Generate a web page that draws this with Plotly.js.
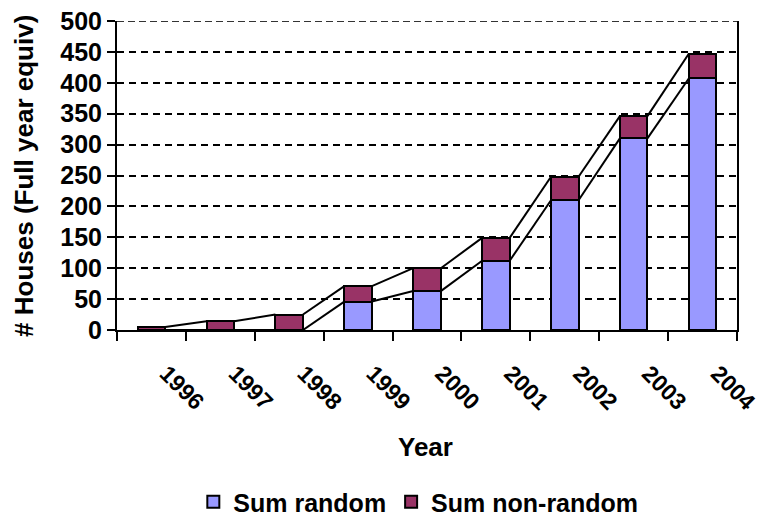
<!DOCTYPE html>
<html>
<head>
<meta charset="utf-8">
<script src="https://cdn.plot.ly/plotly-3.0.1.min.js"></script>
<style>
  html, body { margin: 0; padding: 0; background: #ffffff; }
  #chart { width: 760px; height: 526px; }
</style>
</head>
<body>
<div id="chart"></div>
<script>
// Houses per year (full-year equivalent), split into random and non-random
const years = ['1996', '1997', '1998', '1999', '2000', '2001', '2002', '2003', '2004'];
const sumRandom = [0, 0, 0, 46, 63, 112, 210, 310, 407];
const sumNonRandom = [5, 14, 25, 25, 37, 37, 38, 36, 40];

const COLOR_RANDOM = '#9999ff';
const COLOR_NONRANDOM = '#993366';
const FONT = 'Liberation Sans, Arial, sans-serif';
const BAR_HALF = 0.2;
const Y_MAX = 500;

const idx = years.map((_, i) => i);
const totals = sumRandom.map((v, i) => v + sumNonRandom[i]);

// Series lines joining the tops of neighbouring stacked segments
function seriesLine(values) {
  const xs = [], ys = [];
  for (let i = 0; i < values.length - 1; i++) {
    xs.push(i + BAR_HALF, i + 1 - BAR_HALF, null);
    ys.push(values[i], values[i + 1], null);
  }
  return {
    type: 'scatter', mode: 'lines', x: xs, y: ys,
    line: { color: '#000000', width: 2 },
    hoverinfo: 'skip', showlegend: false, connectgaps: false
  };
}

const traces = [
  {
    type: 'bar', name: 'Sum random', x: idx, y: sumRandom,
    marker: { color: COLOR_RANDOM, line: { color: '#000000', width: 2 } }
  },
  {
    type: 'bar', name: 'Sum non-random', x: idx, y: sumNonRandom,
    marker: { color: COLOR_NONRANDOM, line: { color: '#000000', width: 2 } }
  },
  seriesLine(sumRandom),
  seriesLine(totals)
];

const layout = {
  width: 760, height: 526,
  margin: { l: 117, r: 23, t: 21, b: 196, autoexpand: false },
  paper_bgcolor: '#ffffff', plot_bgcolor: '#ffffff',
  barmode: 'stack', bargap: 0.6,
  font: { family: FONT, weight: 'bold', color: '#000000', size: 24 },
  showlegend: true,
  legend: {
    orientation: 'h', traceorder: 'normal',
    x: 0.486, xanchor: 'center', y: -0.557, yanchor: 'middle',
    font: { family: FONT, weight: 'bold', size: 25, color: '#000000' },
    itemwidth: 30, tracegroupgap: 0
  },
  xaxis: {
    type: 'linear', range: [-0.5, years.length - 0.5], fixedrange: true,
    automargin: false,
    tickmode: 'array', tickvals: idx, ticktext: years,
    tickangle: 45, ticks: '', ticklabelstandoff: 19, ticklabelshift: 15,
    ticklabeloverflow: 'allow',
    tickfont: { family: FONT, weight: 'bold', size: 23, color: '#000000' },
    minor: { tickmode: 'linear', tick0: -0.5, dtick: 1, ticks: 'outside', ticklen: 9, tickwidth: 2, tickcolor: '#000000', showgrid: false },
    showgrid: false, zeroline: false,
    showline: true, linecolor: '#000000', linewidth: 2
  },
  yaxis: {
    range: [0, Y_MAX], tick0: 0, dtick: 50, fixedrange: true,
    automargin: false,
    ticks: 'outside', ticklen: 8, tickwidth: 2, tickcolor: '#000000',
    tickfont: { family: FONT, weight: 'bold', size: 25, color: '#000000' },
    showgrid: true, gridcolor: '#000000', gridwidth: 2, griddash: '7px,5px',
    zeroline: false,
    showline: true, linecolor: '#000000', linewidth: 2, mirror: true
  },
  shapes: [
    // gridline along the top of the value axis
    {
      type: 'line', xref: 'paper', yref: 'y', x0: 0, x1: 1, y0: Y_MAX, y1: Y_MAX,
      line: { color: '#333333', width: 2, dash: '7px,4px' }, layer: 'below'
    }
  ],
  annotations: [
    {
      text: 'Year', xref: 'paper', yref: 'paper', x: 0.497, y: -0.378,
      xanchor: 'center', yanchor: 'middle', showarrow: false,
      font: { family: FONT, weight: 'bold', size: 26, color: '#000000' }
    },
    {
      text: '# Houses (Full year equiv)', xref: 'paper', yref: 'paper',
      x: -0.151, y: 0.5, xanchor: 'center', yanchor: 'middle', textangle: -90,
      showarrow: false,
      font: { family: FONT, weight: 'bold', size: 26, color: '#000000' }
    }
  ]
};

Plotly.newPlot('chart', traces, layout, { displayModeBar: false, staticPlot: true });
</script>
</body>
</html>
